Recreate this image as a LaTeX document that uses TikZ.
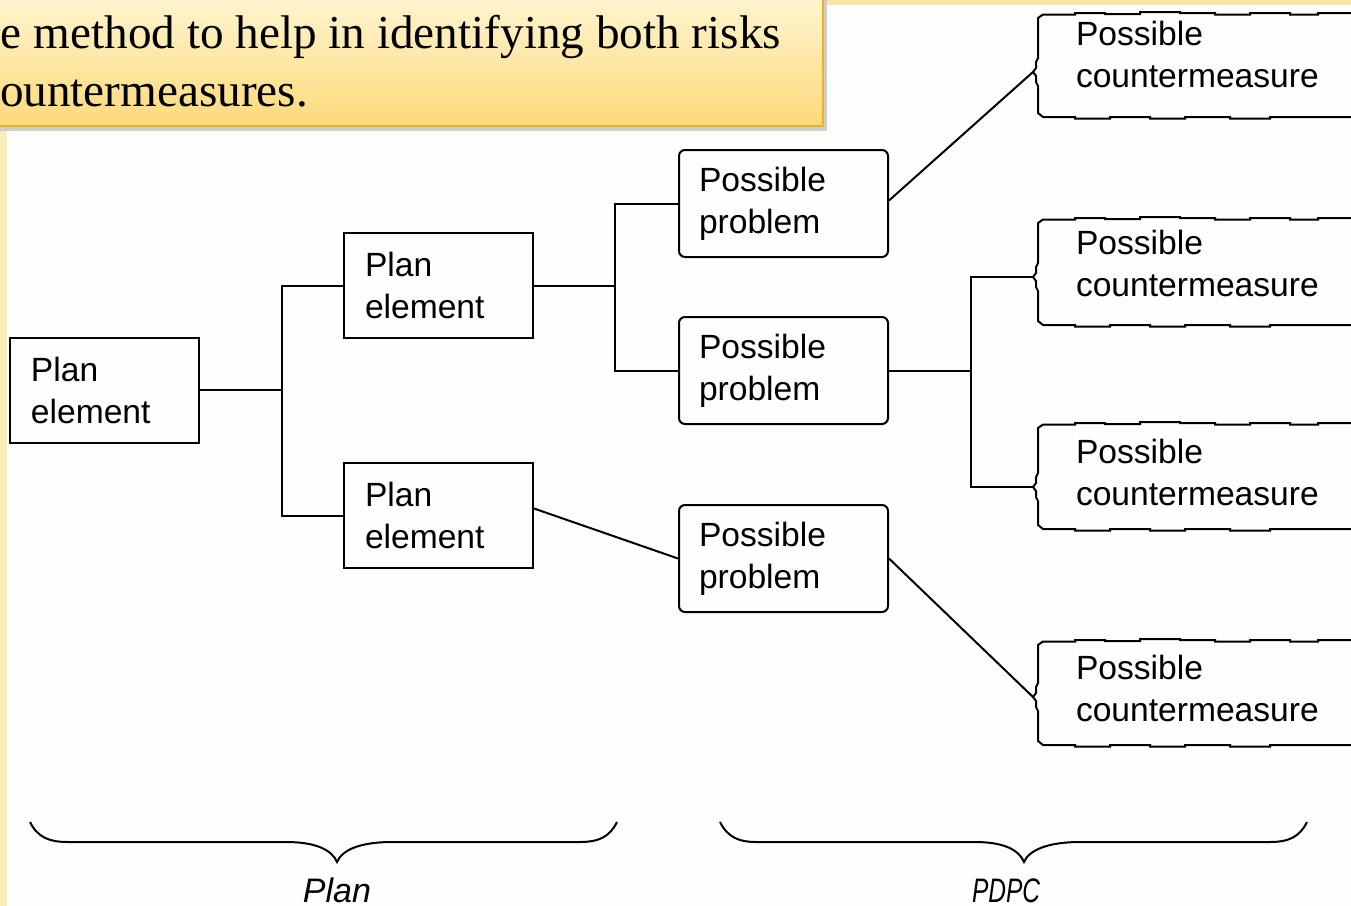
\documentclass[tikz,border=0pt]{standalone}
\usepackage{fontspec}
\setmainfont{Liberation Serif}
\newfontfamily\diagfont{Liberation Sans}
\usetikzlibrary{calc}
\definecolor{bgwhite}{RGB}{254,254,252}
\definecolor{stripyel}{RGB}{250,236,184}
\definecolor{topyel}{RGB}{249,230,160}
\definecolor{calltop}{RGB}{255,246,214}
\definecolor{callbot}{RGB}{253,218,122}
\definecolor{callborder}{RGB}{244,178,20}
\definecolor{shadowgrey}{RGB}{205,205,205}
\newcommand\cmbox[3]{%
  \draw[line width=1pt,line join=miter]
    (1362,#1) -- (1318,#1) -- (1318,#1+1.5) -- (1290,#1+1.5) -- (1290,#1) -- (1250,#1)
    -- (1250,#1+1.5) -- (1215,#1+1.5) -- (1215,#1) -- (1180,#1) -- (1180,#1-1)
    -- (1140,#1-1) -- (1140,#1+1) -- (1105,#1+1) -- (1105,#1) -- (1075,#1)
    -- (1075,#1+1.5) -- (1043,#1+1.5) -- (1038,#1+5) -- (1038,#3-14) -- (1036,#3-10)
    -- (1036,#3-4) -- (1033,#3) -- (1036,#3+4) -- (1036,#3+10) -- (1038,#3+14)
    -- (1038,#2-4) -- (1043,#2) -- (1075,#2) -- (1075,#2+1.5) -- (1110,#2+1.5)
    -- (1110,#2) -- (1150,#2) -- (1150,#2+1.5) -- (1185,#2+1.5) -- (1185,#2)
    -- (1230,#2) -- (1230,#2+1.5) -- (1270,#2+1.5) -- (1270,#2) -- (1362,#2);}
\begin{document}
\begin{tikzpicture}[x=0.5pt,y=-0.5pt,
  line width=1pt,
  diag/.style={font=\diagfont\fontsize{16.8}{21}\selectfont},
  planbox/.style={diag,draw,rectangle,line width=1pt,text width=73.5pt,inner xsep=10.5pt,
     inner ysep=0pt,minimum height=52.5pt,align=left},
  probbox/.style={diag,draw,rectangle,rounded corners=3pt,line width=1pt,text width=84.5pt,
     inner xsep=10pt,inner ysep=0pt,minimum height=53.5pt,align=left},
  cmtext/.style={diag,anchor=north west,inner sep=0pt,align=left},
  conn/.style={line width=1pt},
  bracepath/.style={line width=1pt},
  bracelabel/.style={font=\diagfont\itshape\fontsize{17}{21}\selectfont,anchor=base,inner sep=0pt},
  calltext/.style={font=\fontsize{23.6}{29}\selectfont,anchor=base west,inner sep=0pt}]
\useasboundingbox (0,0) rectangle (1351,906);
\clip (0,0) rectangle (1351,906);
% background
\fill[bgwhite] (0,0) rectangle (1351,906);
\fill[stripyel] (0,120) rectangle (7,906);
\fill[topyel] (820,0) rectangle (1351,5);
% callout
\fill[shadowgrey] (-10,-10) rectangle (827,131);
\draw[top color=calltop,bottom color=callbot,draw=callborder,line width=1pt] (-10,-10) rectangle (823,126);
\node[calltext] (cl1) at (0,48) {e method to help in identifying both risks};
\node[calltext] (cl2) at (-1,106) {ountermeasures.};
% plan elements
\node[planbox] (pe1) at (104.5,390) {Plan\\element};
\node[planbox] (pe2) at (438.5,285.5) {Plan\\element};
\node[planbox] (pe3) at (438.5,515.5) {Plan\\element};
% possible problems
\node[probbox] (pp1) at (783.5,203.5) {Possible\\problem};
\node[probbox] (pp2) at (783.5,370.5) {Possible\\problem};
\node[probbox] (pp3) at (783.5,558.5) {Possible\\problem};
% countermeasures
\cmbox{13}{117}{72}
\cmbox{218}{325}{277}
\cmbox{423}{529}{487}
\cmbox{640}{745}{697}
\coordinate (c1t) at (1033,72);
\coordinate (c2t) at (1033,277);
\coordinate (c3t) at (1033,487);
\coordinate (c4t) at (1033,697);
\node[cmtext] (c1) at (1075,20) {Possible\\countermeasure};
\node[cmtext] (c2) at (1075,229) {Possible\\countermeasure};
\node[cmtext] (c3) at (1075,438) {Possible\\countermeasure};
\node[cmtext] (c4) at (1075,654) {Possible\\countermeasure};
% connectors
\coordinate (j1) at (282,390);
\coordinate (j2) at (615,285.5);
\coordinate (j3) at (971,370.5);
\draw[conn] (pe1.east) -- (j1);
\draw[conn] (pe2.west) -| (j1);
\draw[conn] (pe3.west) -| (j1);
\draw[conn] (pe2.east) -- (j2);
\draw[conn] (pp1.west) -| (j2);
\draw[conn] (pp2.west) -| (j2);
\draw[conn] ($(pe3.east)+(0,-7)$) -- (pp3.west);
\draw[conn] ($(pp1.east)+(0,-3)$) -- (c1t);
\draw[conn] (pp2.east) -- (j3);
\draw[conn] (c2t) -| (j3);
\draw[conn] (c3t) -| (j3);
\draw[conn] (pp3.east) -- (c4t);
% braces
\coordinate (b1) at (337,862);
\coordinate (b2) at (1024,862);
\draw[bracepath] (30,822) .. controls (38,838) and (50,842) .. (68,842) -- (286,842)
  .. controls (316,842) and (332,850) .. (b1) .. controls (342,850) and (360,842) .. (392,842)
  -- (580,842) .. controls (600,842) and (610,836) .. (617,822);
\draw[bracepath] (720,822) .. controls (728,838) and (740,842) .. (756,842) -- (975,842)
  .. controls (1004,842) and (1019,850) .. (b2) .. controls (1029,850) and (1048,842) .. (1080,842)
  -- (1270,842) .. controls (1290,842) and (1300,836) .. (1307,822);
\node[bracelabel] (lplan) at (337,902) {Plan};
\node[bracelabel] (lpdpc) at (1006,902) {\scalebox{0.72}[1]{PDPC}};
\end{tikzpicture}
\end{document}
